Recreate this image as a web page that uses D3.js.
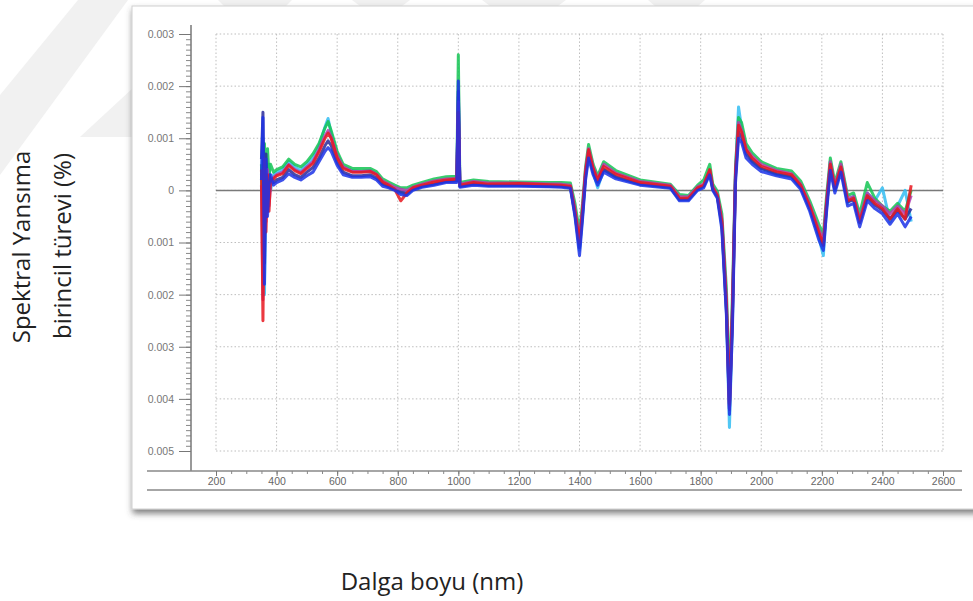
<!DOCTYPE html>
<html><head><meta charset="utf-8">
<script src="https://cdn.jsdelivr.net/npm/d3@7"></script>
<style>body{margin:0;background:#fff}svg{display:block}</style>
</head><body>
<svg id="c" width="973" height="601"></svg>
<script>
// wavelengths (nm)
const wavelengths = [350,355,360,365,370,375,380,390,400,420,440,460,480,500,520,540,560,570,580,600,620,650,680,710,730,750,770,790,810,830,850,880,920,960,995,1000,1005,1050,1100,1200,1300,1340,1370,1385,1400,1410,1420,1430,1445,1460,1480,1520,1600,1700,1730,1760,1790,1810,1830,1840,1855,1870,1885,1895,1905,1915,1925,1935,1950,1970,2000,2050,2100,2130,2160,2190,2205,2215,2228,2243,2263,2285,2305,2325,2350,2375,2400,2425,2450,2475,2495];
// first-derivative reflectance values, in units of 0.001
const seriesCyan = [0.3,1.0,-2.0,0.3,-0.2,0.5,0.0,0.3,0.35,0.4,0.55,0.45,0.38,0.5,0.62,0.85,1.22,1.38,1.1,0.7,0.45,0.38,0.36,0.38,0.32,0.14,0.08,0.02,-0.05,-0.08,0.02,0.08,0.12,0.18,0.2,1.8,0.08,0.12,0.1,0.1,0.09,0.08,0.05,-0.45,-1.15,-0.5,0.25,0.7,0.35,0.05,0.4,0.25,0.12,0.05,-0.18,-0.18,0.02,0.08,0.32,0.02,-0.12,-0.7,-2.3,-4.55,-2.5,0.35,1.6,1.2,0.8,0.55,0.42,0.3,0.26,0.05,-0.35,-0.9,-1.25,-0.4,0.55,0.0,0.4,-0.25,-0.1,-0.55,-0.05,-0.2,0.05,-0.6,-0.3,0.0,-0.6];
const seriesGreen = [0.5,-1.2,0.9,-0.3,0.8,0.3,0.5,0.35,0.4,0.45,0.6,0.5,0.45,0.55,0.7,0.9,1.2,1.32,1.15,0.75,0.5,0.42,0.42,0.42,0.36,0.22,0.16,0.1,0.05,0.05,0.1,0.15,0.22,0.26,0.27,2.6,0.15,0.2,0.17,0.16,0.15,0.15,0.14,-0.25,-0.8,-0.25,0.45,0.88,0.5,0.28,0.55,0.38,0.2,0.12,-0.08,-0.1,0.1,0.2,0.5,0.12,-0.02,-0.45,-1.9,-3.8,-2.0,0.45,1.4,1.3,0.9,0.72,0.55,0.42,0.37,0.18,-0.2,-0.65,-0.85,-0.15,0.62,0.15,0.55,-0.1,-0.05,-0.45,0.15,-0.15,-0.3,-0.4,-0.25,-0.4,0.0];
const seriesNavy = [0.6,1.5,-1.4,0.7,-0.4,0.3,0.2,0.15,0.2,0.25,0.4,0.3,0.25,0.35,0.44,0.62,0.86,0.95,0.86,0.54,0.35,0.28,0.28,0.3,0.24,0.12,0.07,0.03,-0.03,-0.05,0.03,0.08,0.12,0.17,0.18,1.9,0.08,0.12,0.1,0.1,0.08,0.08,0.06,-0.45,-1.1,-0.45,0.3,0.7,0.36,0.16,0.4,0.26,0.12,0.06,-0.17,-0.17,0.03,0.08,0.33,0.03,-0.12,-0.65,-2.3,-4.2,-2.4,0.25,1.12,1.02,0.7,0.56,0.42,0.32,0.27,0.07,-0.33,-0.85,-1.05,-0.35,0.45,0.02,0.42,-0.22,-0.18,-0.62,-0.13,-0.28,-0.38,-0.55,-0.38,-0.55,-0.35];
const seriesMagenta = [0.1,-2.1,0.4,-0.6,0.4,-0.3,0.1,0.25,0.3,0.35,0.5,0.4,0.34,0.45,0.55,0.78,1.05,1.15,1.02,0.66,0.45,0.36,0.36,0.37,0.31,0.18,0.12,0.06,0.02,0.0,0.06,0.12,0.18,0.22,0.23,1.7,0.12,0.17,0.14,0.14,0.12,0.12,0.1,-0.35,-0.95,-0.35,0.4,0.8,0.45,0.22,0.5,0.33,0.17,0.1,-0.12,-0.12,0.07,0.12,0.38,0.07,-0.08,-0.55,-2.1,-4.2,-2.2,0.35,1.3,1.15,0.8,0.65,0.5,0.38,0.32,0.12,-0.27,-0.75,-0.95,-0.25,0.55,0.08,0.5,-0.15,-0.12,-0.55,-0.05,-0.2,-0.3,-0.45,-0.3,-0.45,-0.1];
const seriesRed = [0.4,-2.5,0.6,-0.8,0.3,-0.4,0.2,0.22,0.28,0.32,0.48,0.38,0.32,0.42,0.52,0.74,1.0,1.1,1.0,0.62,0.42,0.35,0.35,0.36,0.3,0.16,0.1,0.02,-0.2,-0.05,0.05,0.1,0.16,0.2,0.22,1.5,0.1,0.15,0.12,0.13,0.11,0.1,0.08,-0.4,-1.0,-0.4,0.35,0.78,0.42,0.2,0.46,0.31,0.15,0.08,-0.15,-0.15,0.05,0.1,0.4,0.05,-0.1,-0.6,-2.2,-4.1,-2.3,0.3,1.25,1.12,0.78,0.62,0.46,0.36,0.3,0.1,-0.3,-0.8,-1.05,-0.3,0.5,0.05,0.45,-0.2,-0.15,-0.6,-0.1,-0.25,-0.35,-0.55,-0.35,-0.55,0.1];
const seriesBlue = [0.2,1.4,-1.8,0.6,-0.5,0.1,0.3,0.1,0.15,0.2,0.32,0.25,0.2,0.28,0.35,0.55,0.75,0.82,0.75,0.48,0.3,0.25,0.25,0.26,0.2,0.08,0.05,0.0,-0.08,-0.1,0.0,0.06,0.1,0.15,0.15,2.1,0.06,0.1,0.08,0.08,0.07,0.06,0.04,-0.5,-1.25,-0.55,0.2,0.62,0.3,0.1,0.35,0.22,0.1,0.04,-0.2,-0.2,0.0,0.05,0.3,0.0,-0.15,-0.75,-2.4,-4.3,-2.6,0.15,1.0,0.92,0.62,0.5,0.36,0.28,0.22,0.02,-0.4,-0.95,-1.15,-0.45,0.38,-0.05,0.35,-0.3,-0.25,-0.7,-0.2,-0.35,-0.45,-0.65,-0.45,-0.7,-0.5];

const seriesList = [
  {name:"cyan", color:"#33bdf2", values:seriesCyan},
  {name:"green", color:"#14c454", values:seriesGreen},
  {name:"navy", color:"#2a2a9a", values:seriesNavy},
  {name:"magenta", color:"#b03cb0", values:seriesMagenta},
  {name:"red", color:"#e8161e", values:seriesRed},
  {name:"blue", color:"#1c32e6", values:seriesBlue}
];

const xTicks = [200,400,600,800,1000,1200,1400,1600,1800,2000,2200,2400,2600];
const yTicks = [3,2,1,0,-1,-2,-3,-4,-5];
const yTickLabels = ["0.003","0.002","0.001","0","0.001","0.002","0.003","0.004","0.005"];
const yTitle1 = "Spektral Yansıma";
const yTitle2 = "birincil türevi (%)";
const xTitle = "Dalga boyu (nm)";

const svg = d3.select("#c");
const defs = svg.append("defs");
const f = defs.append("filter").attr("id","sh").attr("x","-5%").attr("y","-5%").attr("width","115%").attr("height","115%");
f.append("feDropShadow").attr("dx",1).attr("dy",4).attr("stdDeviation",3).attr("flood-color","#444").attr("flood-opacity",0.7);

// faint watermark shapes
const wm = svg.append("g").attr("fill","#f1f1f1");
[[[0,95],[0,175],[128,0],[78,0]],
 [[80,137],[133,137],[133,88]],
 [[218,0],[292,0],[286,6],[224,6]],
 [[352,0],[410,0],[402,6],[360,6]],
 [[482,0],[566,0],[558,6],[490,6]],
 [[648,0],[705,0],[698,6],[655,6]]].forEach(p=>{
  wm.append("polygon").attr("points",p.map(d=>d.join(",")).join(" "));
});

// frame
svg.append("rect").attr("x",132).attr("y",6).attr("width",860).attr("height",503)
  .attr("fill","#fff").attr("stroke","#cfcfcf").attr("filter","url(#sh)");

const x = d3.scaleLinear().domain([200,2600]).range([216,943]);
const y = d3.scaleLinear().domain([-5,3]).range([451,34]);

// grid
const grid = svg.append("g").attr("stroke","#bdbdbd").attr("stroke-width",1).attr("stroke-dasharray","1.5,2.2");
yTicks.forEach(v=>grid.append("line").attr("x1",x(200)).attr("x2",x(2600)).attr("y1",y(v)).attr("y2",y(v)));
xTicks.forEach(v=>grid.append("line").attr("x1",x(v)).attr("x2",x(v)).attr("y1",y(3)).attr("y2",y(-5)));

// zero line
svg.append("line").attr("x1",x(200)).attr("x2",x(2600)).attr("y1",y(0)).attr("y2",y(0))
  .attr("stroke","#7a7a7a").attr("stroke-width",1.5);

// spectra
const line = d3.line().x((d,i)=>x(wavelengths[i])).y(d=>y(d));
const sg = svg.append("g").attr("fill","none").attr("stroke-linejoin","round");
seriesList.forEach(s=>{
  sg.append("path").datum(s.values).attr("d",line).attr("stroke",s.color).attr("stroke-width",3).attr("stroke-opacity",0.85);
});

// y axis
const yAxisX = 191;
const minor = d3.range(-50,31).map(v=>v/10);
svg.append("g").attr("transform",`translate(${yAxisX},0)`)
  .call(d3.axisLeft(y).tickValues(minor).tickSize(5).tickFormat(""))
  .call(g=>g.select(".domain").remove())
  .call(g=>g.selectAll("line").attr("stroke","#888"));
svg.append("g").attr("transform",`translate(${yAxisX},0)`)
  .call(d3.axisLeft(y).tickValues(yTicks).tickSize(12).tickPadding(5).tickFormat((d,i)=>yTickLabels[i]))
  .call(g=>g.select(".domain").remove())
  .call(g=>g.selectAll("line").attr("stroke","#777"))
  .call(g=>g.selectAll("text").attr("fill","#777").attr("font-size","10.5px").attr("font-family","'Liberation Sans Narrow','Liberation Sans',sans-serif"));
svg.append("line").attr("x1",yAxisX).attr("x2",yAxisX).attr("y1",25).attr("y2",471).attr("stroke","#777").attr("stroke-width",1.5);

// x axis
svg.append("line").attr("x1",147).attr("x2",962).attr("y1",471).attr("y2",471).attr("stroke","#888").attr("stroke-width",1.5);
svg.append("line").attr("x1",147).attr("x2",962).attr("y1",490).attr("y2",490).attr("stroke","#888").attr("stroke-width",1.5);
const xMinor = d3.range(200,2601,50);
svg.append("g").attr("transform","translate(0,471)")
  .call(d3.axisBottom(x).tickValues(xMinor).tickSize(3).tickFormat(""))
  .call(g=>g.select(".domain").remove())
  .call(g=>g.selectAll("line").attr("stroke","#888"));
svg.append("g").attr("transform","translate(0,471)")
  .call(d3.axisBottom(x).tickValues(xTicks).tickSize(5).tickPadding(2).tickFormat(d3.format("d")))
  .call(g=>g.select(".domain").remove())
  .call(g=>g.selectAll("line").attr("stroke","#777"))
  .call(g=>g.selectAll("text").attr("fill","#666").attr("font-size","10.5px").attr("font-family","'Liberation Sans Narrow','Liberation Sans',sans-serif"));

// titles
const tf = "'Open Sans','Noto Sans',sans-serif";
svg.append("text").attr("transform","translate(30,247) rotate(-90)").attr("text-anchor","middle")
  .attr("font-family",tf).attr("font-size","24px").attr("fill","#222").text(yTitle1);
svg.append("text").attr("transform","translate(71,246) rotate(-90)").attr("text-anchor","middle")
  .attr("font-family",tf).attr("font-size","24px").attr("fill","#222").text(yTitle2);
svg.append("text").attr("x",432).attr("y",590).attr("text-anchor","middle")
  .attr("font-family",tf).attr("font-size","24px").attr("fill","#222").text(xTitle);
</script>
</body></html>
